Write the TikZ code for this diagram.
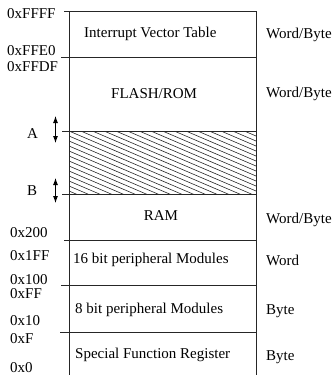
\documentclass[tikz,border=0pt]{standalone}
\usepackage{fontspec}
\setmainfont{Liberation Serif}
\usetikzlibrary{arrows.meta}
\begin{document}
\begin{tikzpicture}[x=1pt,y=-1pt,
  lbl/.style={font=\fontsize{15}{18}\selectfont, inner sep=0pt, anchor=base west},
  clbl/.style={font=\fontsize{15}{18}\selectfont, inner sep=0pt, anchor=base},
  ln/.style={line width=0.9pt, draw=black!85},
  hatch/.style={line width=0.6pt, draw=black!85},
  dbl/.style={line width=0.9pt, {Latex[length=7pt,width=5pt]}-{Latex[length=7pt,width=5pt]}}]
\useasboundingbox (0,0) rectangle (335,375);
% hatched region
\begin{scope}
  \clip (69,131) rectangle (256,194);
  \foreach \i in {-90,-85,...,66} \draw[hatch] (69,131+\i) -- ++(187,80);
\end{scope}
% coordinates of boundaries
\coordinate (t0) at (64,11);   \coordinate (t0r) at (256,11);
\coordinate (t1) at (61,57);   \coordinate (t1r) at (256,57);
\coordinate (tA) at (62,131);  \coordinate (tAr) at (256,131);
\coordinate (tB) at (62,194);  \coordinate (tBr) at (256,194);
\coordinate (t2) at (64,240);  \coordinate (t2r) at (256,240);
\coordinate (t3) at (61,285);  \coordinate (t3r) at (256,285);
\coordinate (t4) at (60,332);  \coordinate (t4r) at (256,332);
\coordinate (lt) at (69,11);   \coordinate (lb) at (69,375);
\coordinate (rt) at (256,11);  \coordinate (rb) at (256,375);
\foreach \a/\b in {t0/t0r,t1/t1r,tA/tAr,tB/tBr,t2/t2r,t3/t3r,t4/t4r,lt/lb,rt/rb}
  \draw[ln] (\a) -- (\b);
% arrows
\coordinate (a1) at (55.5,116); \coordinate (a2) at (55.5,143);
\coordinate (b1) at (55.5,178); \coordinate (b2) at (55.5,203);
\draw[dbl] (a1) -- (a2);
\draw[dbl] (b1) -- (b2);
% address labels
\node[lbl] (l1) at (7,18) {0xFFFF};
\node[lbl] (l2) at (7,55) {0xFFE0};
\node[lbl] (l3) at (7,71) {0xFFDF};
\node[lbl] (lA) at (27,138) {A};
\node[lbl] (lB) at (27,195) {B};
\node[lbl] (l4) at (10,237) {0x200};
\node[lbl] (l5) at (10,260) {0x1FF};
\node[lbl] (l6) at (10,284) {0x100};
\node[lbl] (l7) at (10,298) {0xFF};
\node[lbl] (l8) at (10,325) {0x10};
\node[lbl] (l9) at (10,343) {0xF};
\node[lbl] (l10) at (10,372.5) {0x0};
% region labels
\node[lbl] (r1) at (84,37) {Interrupt Vector Table};
\node[lbl] (r2) at (111,98) {FLASH/ROM};
\node[clbl] (r3) at (161,220) {RAM};
\node[lbl] (r4) at (73,263) {16 bit peripheral Modules};
\node[lbl] (r5) at (75,313) {8 bit peripheral Modules};
\node[lbl] (r6) at (75,358) {Special Function Register};
% access labels
\node[lbl] (w1) at (266,38) {Word/Byte};
\node[lbl] (w2) at (266,97) {Word/Byte};
\node[lbl] (w3) at (266,223) {Word/Byte};
\node[lbl] (w4) at (266,265) {Word};
\node[lbl] (w5) at (266,314) {Byte};
\node[lbl] (w6) at (266,360) {Byte};
\end{tikzpicture}
\end{document}
